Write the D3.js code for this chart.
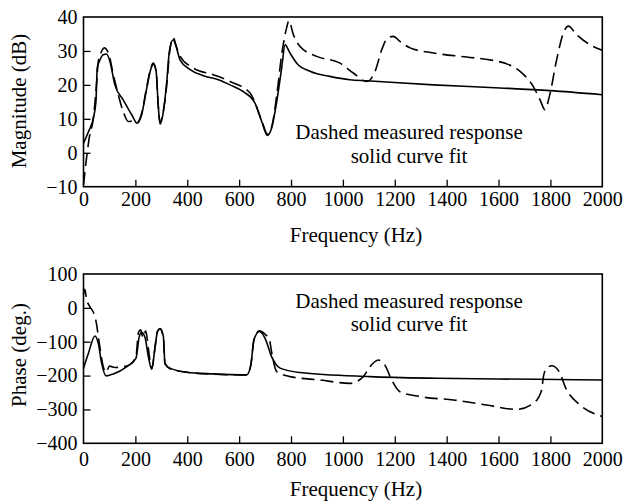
<!DOCTYPE html>
<html>
<head>
<meta charset="utf-8">
<script src="https://cdn.jsdelivr.net/npm/d3@7"></script>
<style>
  body { margin: 0; background: #fff; }
  svg { display: block; font-family: "Liberation Serif", "Times New Roman", serif; }
  .tick text { font-size: 20px; fill: #000; font-family: "Liberation Serif", "Times New Roman", serif; }
</style>
</head>
<body>
<div id="visualization"></div>
<script>
// Magnitude: curve fit (solid)
const magFitHz = [0, 19, 38, 48, 53, 61, 76, 89, 102, 121, 153, 186, 207, 224, 244, 259, 269, 280, 288, 295, 308, 321, 331, 346, 357, 372, 411, 462, 520, 565, 616, 661, 687, 709, 725, 745, 764, 777, 796, 822, 873, 950, 1027, 1092, 1349, 1606, 1798, 2000];
const magFitDb = [2.8, 6.2, 10.2, 15.1, 25, 26.9, 28.9, 29.1, 26.9, 20, 15.6, 11.2, 8.7, 11.2, 19.1, 24.5, 26.1, 24, 14.1, 8.4, 12.1, 21, 29.9, 33.3, 31.3, 27.4, 24.5, 22.7, 21.5, 20, 18, 14.6, 9.2, 5.1, 7.2, 15.1, 25, 31.8, 29.4, 26.4, 24, 22.5, 21.5, 21.2, 20, 19.1, 18.3, 17.1];

// Magnitude: measured (dashed)
const magMeasHz = [0, 10, 22, 38, 51, 57, 70, 79, 96, 115, 134, 153, 173, 195, 207, 224, 244, 259, 269, 280, 288, 295, 308, 321, 331, 346, 357, 372, 423, 500, 565, 642, 687, 709, 725, 745, 764, 783, 792, 809, 835, 899, 989, 1040, 1092, 1124, 1150, 1169, 1194, 1220, 1259, 1349, 1477, 1580, 1631, 1683, 1734, 1760, 1779, 1796, 1824, 1850, 1869, 1901, 1953, 2000];
const magMeasDb = [-9.5, -2.6, 4.3, 10.2, 21, 26.9, 29.9, 30.9, 29.4, 23, 17.1, 12.1, 9.2, 9.4, 9.0, 11.5, 19.5, 24.8, 26.4, 24, 14, 9, 12.5, 20, 29, 34, 31.5, 28.5, 25, 23, 21, 17.6, 9.5, 5.5, 7.5, 17, 28.9, 36.8, 38.9, 34.8, 31.3, 28.4, 26.4, 23.5, 21, 24, 30.4, 33.5, 34.3, 32.8, 30.9, 29.4, 28.2, 27.2, 26.2, 24, 19.5, 15.6, 12.7, 16.6, 27.4, 35.3, 37.3, 34.8, 31.8, 30.2];

// Phase: curve fit (solid)
const phFitHz = [0, 19, 44, 57, 70, 87, 115, 166, 202, 215, 224, 237, 250, 263, 276, 285, 295, 308, 314, 333, 398, 500, 629, 645, 657, 678, 700, 725, 758, 835, 1104, 1362, 1747, 2000];
const phFitDeg = [-178, -134, -83, -105, -164, -201, -195, -174, -149, -85, -72, -87, -144, -181, -115, -70, -61, -85, -164, -178, -190, -195, -198, -169, -95, -70, -90, -144, -178, -191, -203, -208, -211, -213];

// Phase: measured (dashed)
const phMeasHz = [0, 5, 12, 25, 42, 51, 57, 63, 75, 87, 100, 120, 166, 202, 212, 220, 230, 240, 250, 263, 276, 285, 295, 308, 314, 333, 398, 500, 629, 645, 657, 678, 700, 717, 725, 745, 796, 912, 1027, 1079, 1104, 1137, 1162, 1188, 1220, 1297, 1426, 1554, 1670, 1734, 1766, 1773, 1786, 1805, 1830, 1863, 1914, 2000];
const phMeasDeg = [40, 55, 25, 3, -21, -51, -85, -115, -170, -190, -172, -176, -172, -145, -72, -65, -88, -68, -120, -180, -115, -70, -62, -88, -165, -180, -190, -196, -198, -169, -95, -68, -78, -95, -130, -188, -203, -213, -223, -203, -174, -154, -169, -213, -248, -262, -272, -287, -300, -282, -243, -203, -178, -171, -184, -243, -287, -321];

const freqTicks = [0, 200, 400, 600, 800, 1000, 1200, 1400, 1600, 1800, 2000];
const magTicks = [-10, 0, 10, 20, 30, 40];
const phaseTicks = [-400, -300, -200, -100, 0, 100];

const width = 628, height = 503;
const serif = '"Liberation Serif", "Times New Roman", serif';

const svg = d3.select("#visualization")
    .append("svg")
    .attr("width", width)
    .attr("height", height);

const x = d3.scaleLinear().domain([0, 2000]).range([83.5, 602.3]);

function drawPanel(opts) {
    const y = d3.scaleLinear().domain(opts.domain).range([opts.bottom, opts.top]);
    const g = svg.append("g");

    // x axis, ticks pointing inward
    const xAxis = g.append("g")
        .attr("transform", `translate(0,${opts.bottom})`)
        .call(d3.axisBottom(x).tickValues(freqTicks).tickSize(-7).tickPadding(opts.xPad).tickFormat(d3.format("d")))
        .attr("font-family", serif)
        .attr("font-size", 20);
    xAxis.select(".domain").remove();
    xAxis.selectAll(".tick line")
        .attr("stroke-width", 1.3)
        .filter(d => d === 0 || d === 2000).remove();

    const yAxis = g.append("g")
        .attr("transform", `translate(${x(0)},0)`)
        .call(d3.axisLeft(y).tickValues(opts.ticks).tickSize(-7).tickPadding(6))
        .attr("font-family", serif)
        .attr("font-size", 20);
    yAxis.select(".domain").remove();
    yAxis.selectAll(".tick line")
        .attr("stroke-width", 1.3)
        .filter(d => d === opts.domain[0] || d === opts.domain[1]).remove();

    g.append("rect")
        .attr("x", x(0))
        .attr("y", opts.top)
        .attr("width", x(2000) - x(0))
        .attr("height", opts.bottom - opts.top)
        .attr("fill", "none")
        .attr("stroke", "#000")
        .attr("stroke-width", 1.6);

    const line = d3.line()
        .x(d => x(d[0]))
        .y(d => y(d[1]))
        .curve(d3.curveMonotoneX);

    g.append("path")
        .datum(d3.zip(opts.measHz, opts.measVal))
        .attr("fill", "none")
        .attr("stroke", "#000")
        .attr("stroke-width", 1.6)
        .attr("stroke-dasharray", "13,6")
        .attr("d", line);

    g.append("path")
        .datum(d3.zip(opts.fitHz, opts.fitVal))
        .attr("fill", "none")
        .attr("stroke", "#000")
        .attr("stroke-width", 1.6)
        .attr("d", line);

    // annotation
    const note = g.append("text")
        .attr("text-anchor", "middle")
        .attr("font-size", 21);
    note.append("tspan").attr("x", 409).attr("y", opts.noteY).text("Dashed measured response");
    note.append("tspan").attr("x", 409).attr("y", opts.noteY + 23.5).text("solid curve fit");

    g.append("text")
        .attr("x", 356)
        .attr("y", opts.xTitleY)
        .attr("text-anchor", "middle")
        .attr("font-size", 21)
        .text("Frequency (Hz)");

    g.append("text")
        .attr("transform", `translate(26,${opts.yTitleY}) rotate(-90)`)
        .attr("text-anchor", "middle")
        .attr("font-size", 21)
        .text(opts.yTitle);
}

drawPanel({
    domain: [-10, 40], top: 17, bottom: 186.7, ticks: magTicks, xPad: 5,
    fitHz: magFitHz, fitVal: magFitDb, measHz: magMeasHz, measVal: magMeasDb,
    noteY: 139, xTitleY: 241.5, yTitle: "Magnitude (dB)", yTitleY: 101
});

drawPanel({
    domain: [-400, 100], top: 274, bottom: 443.3, ticks: phaseTicks, xPad: 9,
    fitHz: phFitHz, fitVal: phFitDeg, measHz: phMeasHz, measVal: phMeasDeg,
    noteY: 307.5, xTitleY: 496, yTitle: "Phase (deg.)", yTitleY: 355
});
</script>
</body>
</html>
